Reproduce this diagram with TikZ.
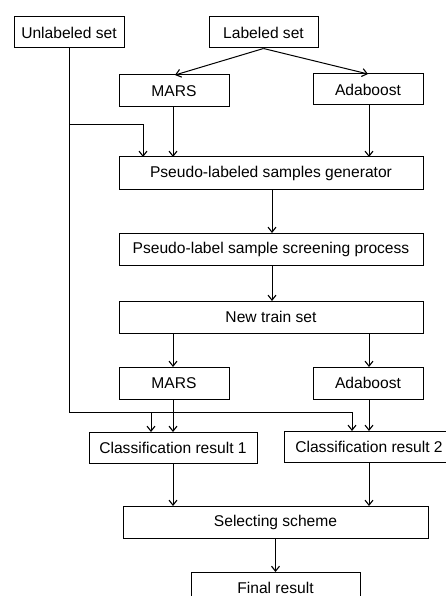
\documentclass[tikz,border=0pt]{standalone}
\usepackage{fontspec}
\setmainfont{Liberation Sans}
\usetikzlibrary{arrows.meta}
\begin{document}
\begin{tikzpicture}[x=1pt,y=-1pt,
  box/.style={draw,line width=1pt,inner sep=0pt,minimum height=31pt,font=\fontsize{15.6}{18}\selectfont},
  arr/.style={line width=1pt,-{Straight Barb[length=5pt,width=8pt,line width=1.1pt]}},
  ln/.style={line width=1pt}]
\useasboundingbox (0,0) rectangle (445,596);
\node[box,minimum width=110pt] (unl) at (69,32.5) {Unlabeled set};
\node[box,minimum width=109pt] (lab) at (263.5,32.5) {Labeled set};
\node[box,minimum width=110pt,minimum height=32pt] (mars1) at (174,91) {MARS};
\node[box,minimum width=110pt] (ada1) at (368,89.5) {Adaboost};
\node[box,minimum width=304pt,minimum height=32pt] (gen) at (271,173) {Pseudo-labeled samples generator};
\node[box,minimum width=304pt,minimum height=32pt] (scr) at (271,249) {Pseudo-label sample screening process};
\node[box,minimum width=304pt,minimum height=32pt] (nts) at (271,317) {New train set};
\node[box,minimum width=110pt,minimum height=32pt] (mars2) at (174,383) {MARS};
\node[box,minimum width=110pt,minimum height=32pt] (ada2) at (368,383) {Adaboost};
\node[box,minimum width=168pt] (cr1) at (173,447.5) {Classification result 1};
\node[box,minimum width=170pt] (cr2) at (369,446.5) {Classification result 2};
\node[box,minimum width=305pt,minimum height=32pt] (sel) at (275.5,522) {Selecting scheme};
\node[box,minimum width=169pt,minimum height=32pt] (fin) at (275.5,588) {Final result};
% top arrows
\draw[arr] (lab.south) -- (175,75);
\draw[arr] (lab.south) -- (368,74);
\draw[arr] (173,107) -- (173,157);
\draw[arr] (369,105) -- (369,157);
% unlabeled line
\coordinate (u1) at (69,125);
\coordinate (u2) at (69,412);
\coordinate (u3) at (151,412);
\draw[ln] (unl.south) -- (u2) -- (352,412);
\draw[arr] (u1) -- (143,125) -- (143,157);
\draw[arr] (352,412) -- (352,431);
\draw[arr] (u3) -- (151,432);
% middle
\draw[arr] (272,189) -- (272,233);
\draw[arr] (272,265) -- (272,301);
\draw[arr] (173,333) -- (173,367);
\draw[arr] (369,333) -- (369,367);
\draw[arr] (173,399) -- (173,432);
\draw[arr] (369,399) -- (369,431);
\draw[arr] (173,463) -- (173,506);
\draw[arr] (369,462) -- (369,506);
\draw[arr] (275.5,538) -- (275.5,572);
\end{tikzpicture}
\end{document}
